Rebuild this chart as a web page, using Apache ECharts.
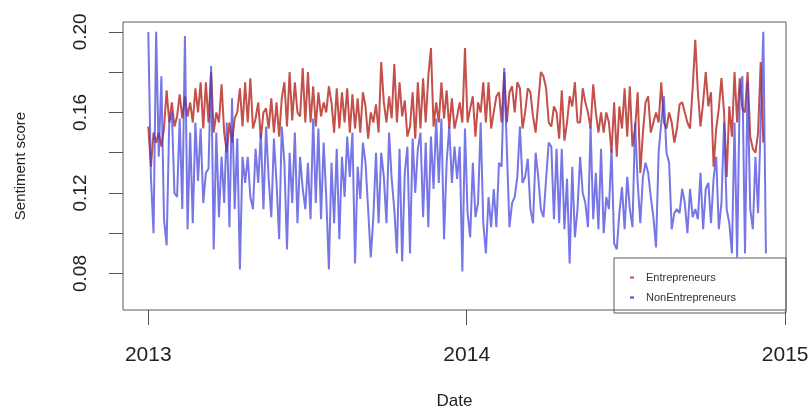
<!DOCTYPE html>
<html>
<head>
<meta charset="utf-8">
<script src="https://cdn.jsdelivr.net/npm/echarts@6/dist/echarts.min.js"></script>
<style>
html, body { margin: 0; padding: 0; background: #fff; }
#chart { width: 812px; height: 415px; }
</style>
</head>
<body>
<div id="chart"></div>
<script>
// one reading every 3 days, starting 2013-01-01
var startDate = [2013, 0, 1];
var stepDays = 3;

var entrepreneurs = [
	0.153, 0.133, 0.150, 0.145, 0.150, 0.143, 0.152, 0.171, 0.155, 0.165,
	0.153, 0.158, 0.169, 0.157, 0.168, 0.158, 0.165, 0.155, 0.172, 0.160,
	0.175, 0.152, 0.175, 0.155, 0.180, 0.150, 0.160, 0.155, 0.174, 0.150,
	0.140, 0.155, 0.145, 0.157, 0.160, 0.172, 0.153, 0.175, 0.155, 0.177,
	0.152, 0.157, 0.165, 0.147, 0.160, 0.162, 0.152, 0.167, 0.150, 0.165,
	0.148, 0.167, 0.175, 0.153, 0.180, 0.156, 0.175, 0.160, 0.158, 0.182,
	0.155, 0.180, 0.155, 0.173, 0.153, 0.170, 0.158, 0.165, 0.160, 0.173,
	0.165, 0.150, 0.172, 0.152, 0.170, 0.155, 0.172, 0.150, 0.169, 0.152,
	0.167, 0.150, 0.170, 0.163, 0.147, 0.160, 0.155, 0.164, 0.150, 0.185,
	0.165, 0.155, 0.168, 0.157, 0.184, 0.155, 0.175, 0.158, 0.166, 0.148,
	0.153, 0.170, 0.147, 0.175, 0.152, 0.177, 0.155, 0.178, 0.192, 0.153,
	0.165, 0.155, 0.175, 0.157, 0.171, 0.152, 0.167, 0.152, 0.158, 0.165,
	0.155, 0.192, 0.155, 0.162, 0.168, 0.148, 0.165, 0.160, 0.175, 0.155,
	0.175, 0.152, 0.160, 0.168, 0.170, 0.155, 0.180, 0.155, 0.170, 0.173,
	0.160, 0.175, 0.172, 0.152, 0.160, 0.172, 0.170, 0.158, 0.150, 0.165,
	0.180, 0.178, 0.172, 0.155, 0.153, 0.163, 0.160, 0.147, 0.171, 0.146,
	0.155, 0.168, 0.163, 0.175, 0.155, 0.155, 0.172, 0.165, 0.160, 0.152,
	0.174, 0.160, 0.150, 0.160, 0.150, 0.160, 0.155, 0.140, 0.165, 0.138,
	0.163, 0.152, 0.172, 0.148, 0.173, 0.143, 0.152, 0.170, 0.130, 0.150,
	0.165, 0.168, 0.150, 0.155, 0.160, 0.155, 0.175, 0.155, 0.152, 0.160,
	0.155, 0.145, 0.152, 0.164, 0.165, 0.160, 0.155, 0.152, 0.172, 0.196,
	0.170, 0.153, 0.165, 0.180, 0.163, 0.170, 0.133, 0.152, 0.162, 0.177,
	0.160, 0.128, 0.163, 0.148, 0.180, 0.155, 0.177, 0.162, 0.160, 0.180,
	0.148, 0.142, 0.140, 0.150, 0.185, 0.145
];

var nonEntrepreneurs = [
	0.200, 0.128, 0.100, 0.200, 0.138, 0.178, 0.107, 0.094, 0.155, 0.160,
	0.120, 0.118, 0.157, 0.112, 0.198, 0.102, 0.150, 0.105, 0.155, 0.126,
	0.152, 0.115, 0.130, 0.132, 0.183, 0.092, 0.150, 0.108, 0.138, 0.115,
	0.155, 0.103, 0.167, 0.112, 0.147, 0.082, 0.138, 0.125, 0.138, 0.118,
	0.112, 0.142, 0.125, 0.150, 0.112, 0.153, 0.127, 0.108, 0.147, 0.125,
	0.097, 0.153, 0.135, 0.092, 0.140, 0.115, 0.150, 0.105, 0.138, 0.122,
	0.112, 0.135, 0.107, 0.157, 0.115, 0.152, 0.107, 0.145, 0.118, 0.082,
	0.135, 0.105, 0.142, 0.097, 0.138, 0.118, 0.148, 0.128, 0.150, 0.085,
	0.133, 0.117, 0.145, 0.135, 0.112, 0.088, 0.108, 0.140, 0.105, 0.140,
	0.128, 0.105, 0.150, 0.127, 0.112, 0.090, 0.142, 0.086, 0.130, 0.143,
	0.090, 0.147, 0.120, 0.142, 0.150, 0.108, 0.145, 0.103, 0.148, 0.122,
	0.157, 0.125, 0.157, 0.097, 0.135, 0.153, 0.125, 0.143, 0.127, 0.143,
	0.081, 0.152, 0.110, 0.098, 0.135, 0.108, 0.115, 0.155, 0.105, 0.090,
	0.118, 0.103, 0.122, 0.103, 0.135, 0.133, 0.182, 0.142, 0.103, 0.115,
	0.118, 0.128, 0.153, 0.125, 0.128, 0.137, 0.112, 0.105, 0.140, 0.128,
	0.112, 0.108, 0.127, 0.145, 0.143, 0.107, 0.142, 0.105, 0.142, 0.102,
	0.127, 0.085, 0.133, 0.098, 0.112, 0.138, 0.120, 0.115, 0.103, 0.153,
	0.107, 0.130, 0.102, 0.142, 0.100, 0.118, 0.112, 0.142, 0.095, 0.092,
	0.110, 0.123, 0.102, 0.128, 0.112, 0.103, 0.155, 0.125, 0.105, 0.128,
	0.135, 0.130, 0.118, 0.108, 0.093, 0.140, 0.155, 0.168, 0.140, 0.135,
	0.102, 0.110, 0.112, 0.110, 0.122, 0.115, 0.100, 0.122, 0.108, 0.112,
	0.107, 0.130, 0.102, 0.122, 0.125, 0.105, 0.127, 0.138, 0.102, 0.115,
	0.155, 0.112, 0.105, 0.090, 0.155, 0.088, 0.170, 0.178, 0.090, 0.175,
	0.112, 0.102, 0.138, 0.110, 0.155, 0.200, 0.090
];

var yTicks = [0.08, 0.10, 0.12, 0.14, 0.16, 0.18, 0.20];
var yLabels = [0.08, 0.12, 0.16, 0.20];
var xYears = [2013, 2014, 2015];

function toPairs(values){
	var out = [];
	for(var i = 0; i < values.length; i++){
		var d = new Date(startDate[0], startDate[1], startDate[2] + i * stepDays);
		out.push([d.getTime(), values[i]]);
	}
	return out;
}
var xTicks = xYears.map(function(y){ return new Date(y, 0, 1).getTime(); });

var chart = echarts.init(document.getElementById('chart'));
chart.setOption({
	animation : false,
	textStyle : { fontFamily : 'Liberation Sans, Arial, sans-serif' },
	grid : {
		left : 123, right : 26, top : 22, bottom : 101,
		show : true,
		borderColor : '#5a5a5a',
		borderWidth : 1
	},
	legend : {
		orient : 'vertical',
		left : 625, top : 267,
		icon : 'rect',
		itemWidth : 4, itemHeight : 2,
		itemGap : 9,
		textStyle : { fontSize : 11, color : '#333', padding : [0, 0, 0, 7] }
	},
	xAxis : {
		type : 'value',
		min : new Date(2012, 11, 3).getTime(),
		max : new Date(2015, 0, 2).getTime(),
		name : 'Date',
		nameLocation : 'middle',
		nameGap : 83,
		nameTextStyle : { fontSize : 17, color : '#222' },
		axisLine : { show : false },
		splitLine : { show : false },
		axisTick : {
			show : true, length : 15, inside : false,
			customValues : xTicks,
			lineStyle : { color : '#555' }
		},
		axisLabel : {
			customValues : xTicks,
			margin : 35,
			fontSize : 21,
			color : '#222',
			formatter : function(v){ return new Date(v).getFullYear(); }
		}
	},
	yAxis : {
		type : 'value',
		min : 0.0619,
		max : 0.2049,
		name : 'Sentiment score',
		nameLocation : 'middle',
		nameRotate : 90,
		nameGap : 95,
		nameTextStyle : { fontSize : 15, color : '#222' },
		axisLine : { show : false },
		splitLine : { show : false },
		axisTick : {
			show : true, length : 14,
			customValues : yTicks,
			lineStyle : { color : '#555' }
		},
		axisLabel : {
			customValues : yLabels,
			rotate : 90,
			margin : 33,
			fontSize : 19,
			color : '#222',
			formatter : function(v){ return v.toFixed(2); }
		}
	},
	graphic : [{
		type : 'rect',
		shape : { x : 614, y : 258, width : 172, height : 55 },
		style : { fill : 'none', stroke : '#5a5a5a', lineWidth : 1 },
		z : 100
	}],
	series : [
		{
			name : 'Entrepreneurs',
			type : 'line',
			symbol : 'none',
			data : toPairs(entrepreneurs),
			color : '#c4504b',
			lineStyle : { width : 2, color : '#c4504b' }
		},
		{
			name : 'NonEntrepreneurs',
			type : 'line',
			symbol : 'none',
			data : toPairs(nonEntrepreneurs),
			color : '#4b4bdc',
			lineStyle : { width : 2, color : 'rgba(60,60,220,0.7)' }
		}
	]
});
</script>
</body>
</html>
